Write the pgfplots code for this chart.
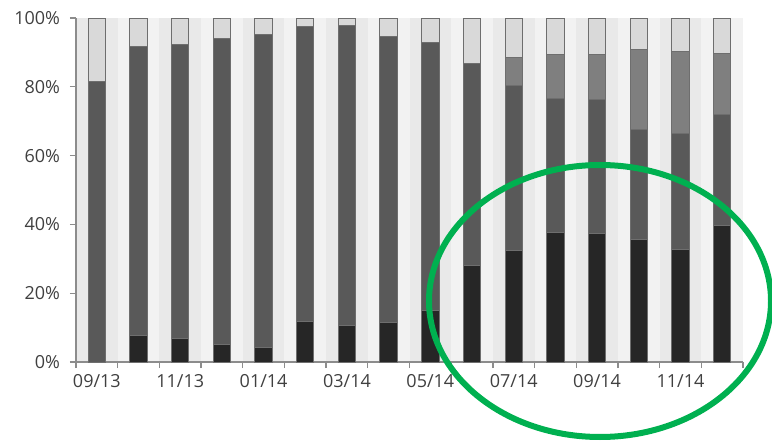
\documentclass[border=0pt]{standalone}
\usepackage{pgfplots}
\usepackage{pgfplotstable}
\pgfplotsset{compat=1.18}
\usepackage{fontspec}
\setmainfont{Open Sans}

\definecolor{segk}{HTML}{262626}
\definecolor{segd}{HTML}{595959}
\definecolor{segm}{HTML}{7F7F7F}
\definecolor{segl}{HTML}{D9D9D9}
\definecolor{edge}{HTML}{6E6E6E}
\definecolor{stripeA}{HTML}{E9E9E9}
\definecolor{stripeB}{HTML}{F2F2F2}
\definecolor{axisgray}{HTML}{8C8C8C}
\definecolor{ticktext}{HTML}{404040}
\definecolor{ringgreen}{HTML}{00B050}

% month  black  dark  medium  light  (shares in %)
\pgfplotstableread{
x  k     d     m     l
0  0.0   81.4  0.0   18.6
1  7.6   84.1  0.0   8.3
2  6.9   85.5  0.0   7.6
3  5.1   88.8  0.0   6.1
4  4.3   90.9  0.0   4.8
5  11.7  85.8  0.0   2.5
6  10.6  87.1  0.0   2.3
7  11.4  83.2  0.0   5.4
8  15.1  77.7  0.0   7.2
9  28.0  58.8  0.0   13.2
10 32.4  47.9  8.3   11.4
11 37.7  38.8  12.9  10.6
12 37.3  38.9  13.3  10.5
13 35.5  32.1  23.1  9.3
14 32.8  33.5  24.1  9.6
15 39.6  32.4  17.7  10.3
}\shares

\pgfplotsset{
  frame/.style={
    at={(57pt,58.5pt)}, anchor=south west,
    scale only axis,
    width=500.25pt, height=258pt,
    xmin=-0.5, xmax=15.5,
    ymin=0, ymax=100,
  },
}

\begin{document}
\begin{tikzpicture}
\useasboundingbox (0,0) rectangle (579pt,330pt);
% background stripes, one per month
\begin{axis}[frame, hide axis]
\fill[stripeB] (axis cs:-0.5,0) rectangle (axis cs:15.5,100);
\pgfplotsinvokeforeach{0,2,...,14}{
  \fill[stripeA] (axis cs:#1-0.5,0) rectangle (axis cs:#1+0.5,100);
}
\end{axis}
\begin{axis}[
    frame,
    axis x line*=bottom, axis y line*=left,
    axis line style={draw=axisgray, line width=1.3pt, -},
    tick align=outside,
    major tick length=4.5pt,
    tick style={draw=axisgray, line width=1pt},
    xtick={-0.5,0.5,...,15.5},
    xticklabels={},
    extra x ticks={0,2,...,14},
    extra x tick labels={09/13,11/13,01/14,03/14,05/14,07/14,09/14,11/14},
    extra x tick style={major tick length=0pt, grid=none},
    ytick={0,20,...,100},
    yticklabels={0\%,20\%,40\%,60\%,80\%,100\%},
    ticklabel style={font=\fontsize{13.5pt}{15pt}\selectfont, text=ticktext},
    xticklabel style={yshift=-6pt},
    yticklabel style={xshift=-4pt},
    ybar stacked,
    bar width=13pt,
    every axis plot/.append style={draw=edge, line width=0.75pt},
]
\addplot[fill=segk] table[x=x, y=k] {\shares};
\addplot[fill=segd] table[x=x, y=d] {\shares};
\addplot[fill=segm] table[x=x, y=m] {\shares};
\addplot[fill=segl] table[x=x, y=l] {\shares};
\end{axis}
\draw[ringgreen, line width=4.5pt] (450pt,104.25pt) ellipse [x radius=128.25pt, y radius=102pt];
\end{tikzpicture}
\end{document}
